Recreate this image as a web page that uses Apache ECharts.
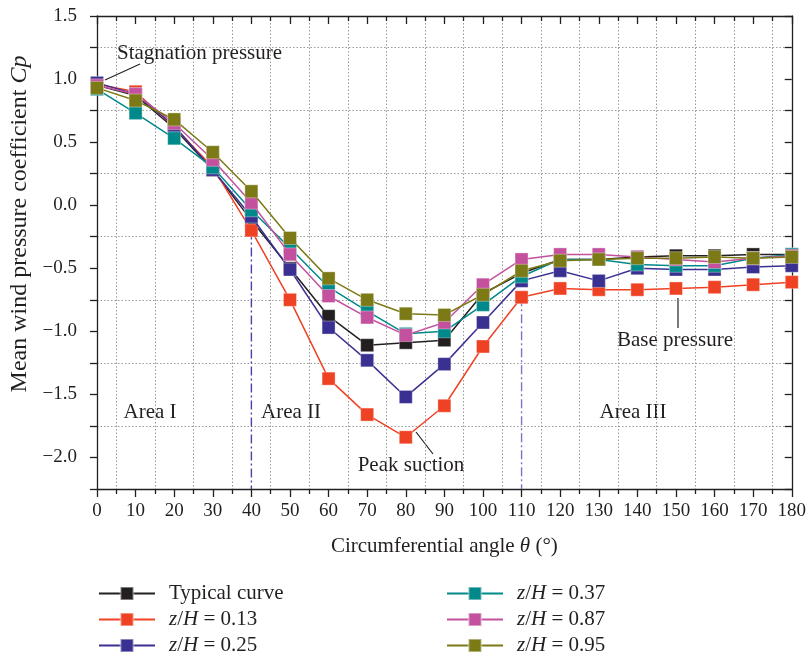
<!DOCTYPE html>
<html>
<head>
<meta charset="utf-8">
<script src="https://cdn.jsdelivr.net/npm/echarts@6/dist/echarts.min.js"></script>
<style>html,body{margin:0;padding:0;background:#fff}#c{width:809px;height:657px}</style>
</head>
<body>
<div id="c"></div>
<script>
// ---- data ----
const angles = [0,10,20,30,40,50,60,70,80,90,100,110,120,130,140,150,160,170,180];
const seriesNames = ['Typical curve','z/H = 0.13','z/H = 0.25','z/H = 0.37','z/H = 0.87','z/H = 0.95'];
const typical = [0.95,0.87,0.61,0.28,-0.12,-0.50,-0.88,-1.11,-1.09,-1.07,-0.70,-0.54,-0.43,-0.43,-0.41,-0.40,-0.40,-0.39,-0.39];
const zh013  = [0.96,0.90,0.62,0.30,-0.20,-0.75,-1.375,-1.66,-1.84,-1.59,-1.12,-0.73,-0.66,-0.67,-0.67,-0.66,-0.65,-0.63,-0.61];
const zh025  = [0.97,0.88,0.63,0.28,-0.09,-0.51,-0.97,-1.23,-1.52,-1.26,-0.93,-0.60,-0.52,-0.60,-0.50,-0.51,-0.51,-0.49,-0.48];
const zh037  = [0.92,0.73,0.53,0.30,-0.04,-0.34,-0.65,-0.84,-1.02,-1.00,-0.79,-0.565,-0.43,-0.43,-0.47,-0.48,-0.48,-0.42,-0.39];
const zh087  = [0.95,0.88,0.65,0.36,0.02,-0.39,-0.72,-0.89,-1.03,-0.93,-0.63,-0.43,-0.39,-0.39,-0.41,-0.43,-0.45,-0.42,-0.40];
const zh095  = [0.93,0.83,0.68,0.42,0.11,-0.26,-0.58,-0.75,-0.86,-0.87,-0.71,-0.52,-0.44,-0.43,-0.42,-0.42,-0.41,-0.42,-0.41];
const colors = ['#231f20','#ef4123','#3a3092','#00898a','#c4519e','#7b7a16'];
const areaBoundaries = [40, 110];
const boundaryTop = [-0.2, -0.73];
const yTicks = [-2.0,-1.5,-1.0,-0.5,0.0,0.5,1.0,1.5];

const FONT = '"Liberation Serif", "DejaVu Serif", serif';
const allData = [typical, zh013, zh025, zh037, zh087, zh095];

const lineSeries = allData.map((vals, i) => ({
  name: seriesNames[i],
  type: 'line',
  xAxisIndex: 0, yAxisIndex: 0,
  data: angles.map((a, j) => [a, vals[j]]),
  symbol: 'rect',
  symbolSize: 13,
  itemStyle: { color: colors[i], borderColor: 'rgba(255,255,255,0.35)', borderWidth: 1 },
  lineStyle: { color: colors[i], width: 1.5 },
  z: 3 + i,
  animation: false
}));

const boundarySeries = areaBoundaries.map((a, i) => ({
  type: 'line',
  xAxisIndex: 0, yAxisIndex: 0,
  data: [[a, boundaryTop[i]], [a, -2.25]],
  symbol: 'none',
  lineStyle: { color: i === 0 ? '#4a42a6' : '#7d74c4', width: 1.4, type: [9, 3, 2, 3] },
  z: 2,
  silent: true,
  animation: false
}));

function legendFmt(name) {
  if (name === 'Typical curve') return '{n|' + name + '}';
  return '{i|z}{n|/}{i|H}{n|' + name.slice(3) + '}';
}
const legendRich = {
  n: { fontFamily: FONT, fontSize: 21, lineHeight: 22, color: '#231f20' },
  i: { fontFamily: FONT, fontSize: 21, lineHeight: 22, fontStyle: 'italic', color: '#231f20' }
};
const legendLeft = [98, 98, 98, 446, 446, 446];
const legendTop = [583, 609, 635, 583, 609, 635];
const legends = seriesNames.map((nm, i) => ({
  data: [nm], left: legendLeft[i], top: legendTop[i], padding: 0,
  itemWidth: 56, itemHeight: 16, formatter: legendFmt,
  textStyle: { rich: legendRich, padding: [0, 0, 0, 9] }, selectedMode: false
}));

const axisLineStyle = { color: '#231f20', width: 1.3 };
const gridDots = { color: '#9a9a9a', width: 1, type: [1.5, 2] };

const option = {
  backgroundColor: '#fff',
  animation: false,
  grid: { left: 97, right: 16, top: 16, bottom: 168, containLabel: false },
  legend: legends,
  xAxis: [
    { type: 'value', position: 'bottom', min: 0, max: 180, interval: 10,
      axisLine: { show: true, onZero: false, lineStyle: axisLineStyle },
      axisTick: { show: true, length: 8, lineStyle: axisLineStyle },
      minorTick: { show: true, splitNumber: 2, length: 5, lineStyle: axisLineStyle },
      splitLine: { show: false },
      minorSplitLine: { show: true, lineStyle: gridDots },
      axisLabel: { fontFamily: FONT, fontSize: 19, color: '#231f20', margin: 13 },
      name: '{n|Circumferential angle }{i|θ}{n| (°)}',
      nameLocation: 'middle', nameGap: 47,
      nameTextStyle: { rich: { n: { fontFamily: FONT, fontSize: 21, color: '#231f20' }, i: { fontFamily: FONT, fontSize: 21, fontStyle: 'italic', color: '#231f20' } } }
    },
    { type: 'value', position: 'top', min: 0, max: 180, interval: 10,
      axisLine: { show: true, onZero: false, lineStyle: axisLineStyle },
      axisTick: { show: true, inside: true, length: 8, lineStyle: axisLineStyle },
      minorTick: { show: true, splitNumber: 2, length: 5, lineStyle: axisLineStyle },
      splitLine: { show: false },
      axisLabel: { show: false }
    }
  ],
  yAxis: [
    { type: 'value', position: 'left', min: -2.25, max: 1.5, interval: 0.25,
      axisLine: { show: true, onZero: false, lineStyle: axisLineStyle },
      axisTick: { show: true, length: 7, lineStyle: axisLineStyle },
      splitLine: { show: false },
      axisLabel: { fontFamily: FONT, fontSize: 19, color: '#231f20', margin: 20,
        formatter: function (v) {
          const r = Math.round(v * 100) / 100;
          if (yTicks.indexOf(r) < 0) return '';
          return (r < 0 ? '\u2212' : '') + Math.abs(r).toFixed(1);
        } }
    },
    { type: 'value', position: 'right', min: -2.25, max: 1.5, interval: 0.25,
      axisLine: { show: true, onZero: false, lineStyle: axisLineStyle },
      axisTick: { show: true, inside: true, length: 7, lineStyle: axisLineStyle },
      splitLine: { show: false },
      axisLabel: { show: false }
    },
    { type: 'value', position: 'left', min: -2.25, max: 1.5, interval: 0.5,
      axisLine: { show: false, onZero: false }, axisTick: { show: false }, axisLabel: { show: false },
      splitLine: { show: true, lineStyle: gridDots }
    }
  ],
  series: boundarySeries.concat(lineSeries),
  graphic: [
    { type: 'text', x: 20, y: 224, rotation: Math.PI / 2,
      style: { text: '{n|Mean wind pressure coefficient }{i|Cp}', align: 'center', verticalAlign: 'middle',
        rich: { n: { fontFamily: FONT, fontSize: 24, fill: '#231f20' }, i: { fontFamily: FONT, fontSize: 24, fontStyle: 'italic', fill: '#231f20' } } } },
    { type: 'text', x: 117, y: 53, style: { text: 'Stagnation pressure', font: '21px ' + FONT, fill: '#231f20', align: 'left', verticalAlign: 'middle' } },
    { type: 'line', shape: { x1: 105, y1: 80, x2: 140, y2: 64 }, style: { stroke: '#231f20', lineWidth: 1.2 } },
    { type: 'text', x: 411, y: 465, style: { text: 'Peak suction', font: '21px ' + FONT, fill: '#231f20', align: 'center', verticalAlign: 'middle' } },
    { type: 'line', shape: { x1: 416, y1: 432, x2: 433, y2: 454 }, style: { stroke: '#231f20', lineWidth: 1.2 } },
    { type: 'text', x: 675, y: 340, style: { text: 'Base pressure', font: '21px ' + FONT, fill: '#231f20', align: 'center', verticalAlign: 'middle' } },
    { type: 'line', shape: { x1: 678, y1: 298, x2: 678, y2: 328 }, style: { stroke: '#231f20', lineWidth: 1.2 } },
    { type: 'text', x: 150, y: 412, style: { text: 'Area I', font: '21px ' + FONT, fill: '#231f20', align: 'center', verticalAlign: 'middle' } },
    { type: 'text', x: 291, y: 412, style: { text: 'Area II', font: '21px ' + FONT, fill: '#231f20', align: 'center', verticalAlign: 'middle' } },
    { type: 'text', x: 633, y: 412, style: { text: 'Area III', font: '21px ' + FONT, fill: '#231f20', align: 'center', verticalAlign: 'middle' } }
  ]
};

const chart = echarts.init(document.getElementById('c'), null, { renderer: 'canvas' });
chart.setOption(option);
</script>
</body>
</html>
